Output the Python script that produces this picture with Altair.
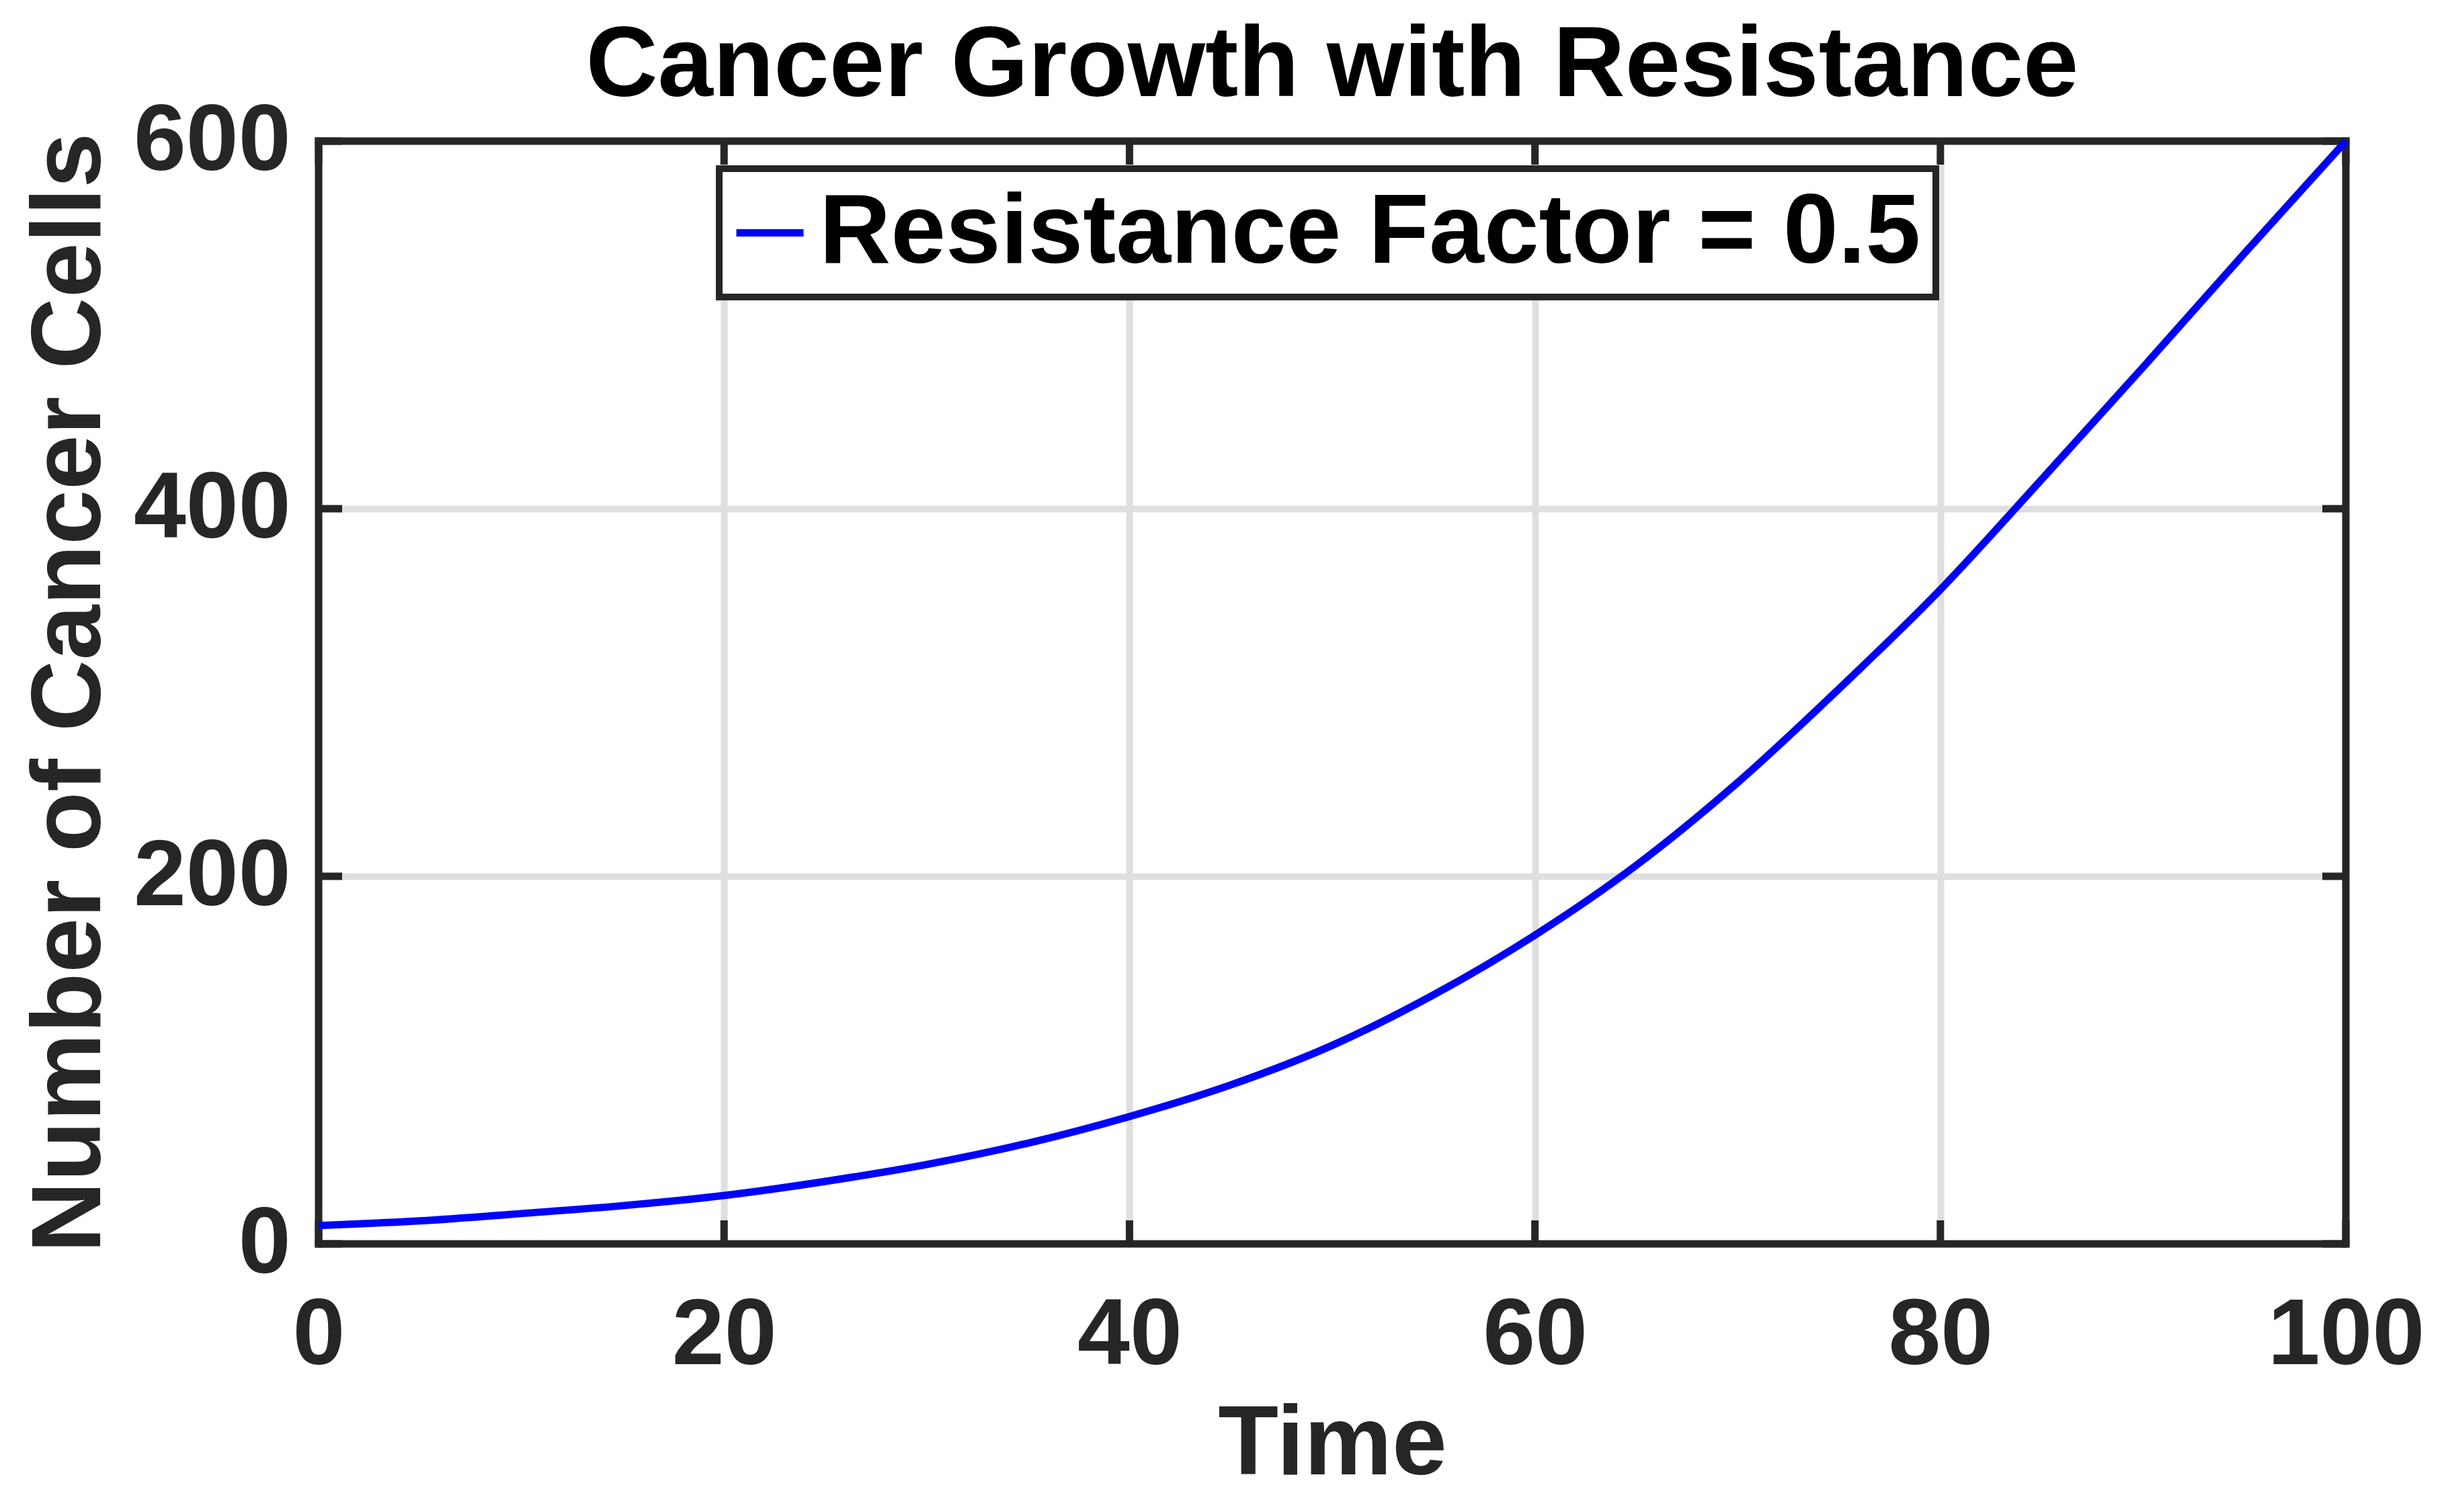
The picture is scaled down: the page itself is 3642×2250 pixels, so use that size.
import altair as alt
import pandas as pd

# Values
time_vals = [0, 5, 10, 15, 20, 25, 30, 35, 40, 45, 50, 55, 60, 65, 70, 75, 80, 85, 90, 95, 100]
cells_vals = [10, 12.5, 16.5, 20.8, 26.3, 34, 43.2, 54.8, 69.3, 86.5, 108, 135.5,
              168, 206, 251, 302, 356, 416, 477, 539, 600]
series_name = "Resistance Factor = 0.5"

x_ticks = [0, 20, 40, 60, 80, 100]
y_ticks = [0, 200, 400, 600]
x_limits = [0, 100]
y_limits = [0, 600]

W, H = 3016, 1641
FONT = "Liberation Sans"
DARK = "#262626"
TICK_LEN = 35

df = pd.DataFrame({"t": time_vals, "n": cells_vals, "s": [series_name] * len(time_vals)})
xt = pd.DataFrame({"t": x_ticks})
yt = pd.DataFrame({"n": y_ticks})
xl = pd.DataFrame({"t": x_limits})
yl = pd.DataFrame({"n": y_limits})

xs = alt.Scale(domain=x_limits, nice=False)
ys = alt.Scale(domain=y_limits, nice=False)

x_axis = alt.Axis(
    values=x_ticks, title="Time", grid=True, ticks=False, tickSize=0, domain=False,
    labelFlush=False, labelOverlap=False, labelPadding=67, labelLimit=2000,
    labelFontSize=140, labelFont=FONT, labelFontWeight="bold", labelColor=DARK,
    titleFontSize=147, titleFont=FONT, titleFontWeight="bold", titleColor=DARK,
    titleY=342, titleBaseline="alphabetic", titleLimit=3000,
    gridColor="#dfdfdf", gridWidth=10)
y_axis = alt.Axis(
    values=y_ticks, title="Number of Cancer Cells", grid=True, ticks=False, tickSize=0,
    domain=False, labelFlush=False, labelOverlap=False, labelPadding=42, labelLimit=2000,
    labelFontSize=140, labelFont=FONT, labelFontWeight="bold", labelColor=DARK,
    titleFontSize=147, titleFont=FONT, titleFontWeight="bold", titleColor=DARK,
    titleX=-326, titleAngle=270, titleBaseline="alphabetic", titleLimit=3000,
    gridColor="#dfdfdf", gridWidth=10)

line = alt.Chart(df).mark_line(strokeWidth=11, interpolate="monotone").encode(
    x=alt.X("t:Q", scale=xs, axis=x_axis),
    y=alt.Y("n:Q", scale=ys, axis=y_axis),
    color=alt.Color("s:N", scale=alt.Scale(range=["#0000ff"]), legend=alt.Legend(
        title=None, orient="none", legendX=596, legendY=41,
        symbolType="stroke", symbolSize=10000, symbolStrokeWidth=11, symbolOffset=-20,
        labelFontSize=147, labelFont=FONT, labelFontWeight="bold", labelColor="black",
        labelLimit=4000, labelOffset=0, padding=22,
        strokeColor=DARK, fillColor="white")),
)

rule_style = dict(color=DARK, strokeWidth=11, strokeCap="butt")
frame_style = dict(color=DARK, strokeWidth=11, strokeCap="square")

# box around the plot area, drawn over the grid
frame_v = alt.Chart(xl).mark_rule(**frame_style).encode(
    x=alt.X("t:Q", scale=xs, axis=x_axis), y=alt.value(0), y2=alt.value(H))
frame_h = alt.Chart(yl).mark_rule(**frame_style).encode(
    y=alt.Y("n:Q", scale=ys, axis=y_axis), x=alt.value(0), x2=alt.value(W))

# inward ticks on all four sides
bottom_ticks = alt.Chart(xt).mark_rule(**rule_style).encode(
    x=alt.X("t:Q", scale=xs, axis=x_axis), y=alt.value(H), y2=alt.value(H - TICK_LEN))
top_ticks = alt.Chart(xt).mark_rule(**rule_style).encode(
    x=alt.X("t:Q", scale=xs, axis=x_axis), y=alt.value(0), y2=alt.value(TICK_LEN))
left_ticks = alt.Chart(yt).mark_rule(**rule_style).encode(
    y=alt.Y("n:Q", scale=ys, axis=y_axis), x=alt.value(0), x2=alt.value(TICK_LEN))
right_ticks = alt.Chart(yt).mark_rule(**rule_style).encode(
    y=alt.Y("n:Q", scale=ys, axis=y_axis), x=alt.value(W), x2=alt.value(W - TICK_LEN))

chart = alt.layer(frame_v, frame_h, bottom_ticks, top_ticks, left_ticks, right_ticks,
                  line).properties(
    width=W, height=H,
    background="white",
    title=alt.TitleParams("Cancer Growth with Resistance", fontSize=148, font=FONT,
                          fontWeight="bold", color="black", anchor="middle",
                          baseline="alphabetic", offset=0, dy=151),
    autosize=alt.AutoSizeParams(type="none"),
    padding={"left": 466, "top": 202, "right": 120, "bottom": 385},
).configure_view(stroke=None).configure_legend(strokeWidth=10)

chart.save("out.html", embed_options={"renderer": "svg", "actions": False})
